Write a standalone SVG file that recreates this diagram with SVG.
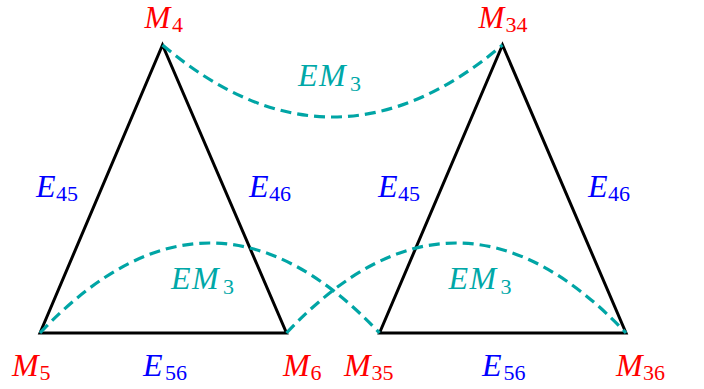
<svg xmlns="http://www.w3.org/2000/svg" width="704" height="389" viewBox="0 0 704 389">
  <style>
    text { font-family: "Liberation Serif", "Times New Roman", serif; font-size: 32px; font-style: italic; }
    .sub { font-size: 22px; font-style: normal; }
    .top { font-size: 31px; }
    .v { fill: #FF0000; }
    .e { fill: #0000FF; }
    .em { fill: #00A8A8; }
    .edge { fill: none; stroke: #000000; stroke-width: 3; stroke-linejoin: miter; stroke-linecap: butt; }
    .dash { fill: none; stroke: #00A5A5; stroke-width: 3.2; stroke-dasharray: 11 6; }
  </style>
  <rect x="0" y="0" width="704" height="389" fill="#FFFFFF"/>

  <g id="connectors">
    <path class="edge" d="M40,333 L162.5,45 L286.5,333 Z"/>
    <path class="edge" d="M379.5,333 L502.5,45 L626,333 Z"/>
    <path class="dash" d="M162.5,45 Q332.5,189 502.5,45"/>
    <path class="dash" d="M40,333 Q210,153 379.5,333"/>
    <path class="dash" d="M286.5,333 Q456,153 626,333"/>
  </g>

  <g id="node-M4"><text class="v top"><tspan x="144.5" y="28">M</tspan><tspan class="sub" x="172" y="32">4</tspan></text></g>
  <g id="node-M5"><text class="v"><tspan x="12" y="376">M</tspan><tspan class="sub" x="39.5" y="380">5</tspan></text></g>
  <g id="node-M6"><text class="v"><tspan x="283" y="376">M</tspan><tspan class="sub" x="310.5" y="380">6</tspan></text></g>
  <g id="node-M34"><text class="v top"><tspan x="478.5" y="28">M</tspan><tspan class="sub" x="505.5" y="32">34</tspan></text></g>
  <g id="node-M35"><text class="v"><tspan x="344" y="376">M</tspan><tspan class="sub" x="371.5" y="380">35</tspan></text></g>
  <g id="node-M36"><text class="v"><tspan x="616" y="376">M</tspan><tspan class="sub" x="643" y="380">36</tspan></text></g>

  <g id="edge-labels">
    <text class="e"><tspan x="36" y="197">E</tspan><tspan class="sub" x="56" y="201">45</tspan></text>
    <text class="e"><tspan x="249" y="197">E</tspan><tspan class="sub" x="269" y="201">46</tspan></text>
    <text class="e"><tspan x="143" y="376">E</tspan><tspan class="sub" x="165" y="380">56</tspan></text>
    <text class="e"><tspan x="378" y="197">E</tspan><tspan class="sub" x="398" y="201">45</tspan></text>
    <text class="e"><tspan x="588" y="197">E</tspan><tspan class="sub" x="608" y="201">46</tspan></text>
    <text class="e"><tspan x="482" y="376">E</tspan><tspan class="sub" x="503.5" y="380">56</tspan></text>
    <text class="em"><tspan x="298" y="86">E</tspan><tspan x="319" y="86">M</tspan><tspan class="sub" x="350" y="91">3</tspan></text>
    <text class="em"><tspan x="171" y="289">E</tspan><tspan x="192" y="289">M</tspan><tspan class="sub" x="223" y="294">3</tspan></text>
    <text class="em"><tspan x="448.5" y="289">E</tspan><tspan x="469.5" y="289">M</tspan><tspan class="sub" x="500.5" y="294">3</tspan></text>
  </g>
</svg>
